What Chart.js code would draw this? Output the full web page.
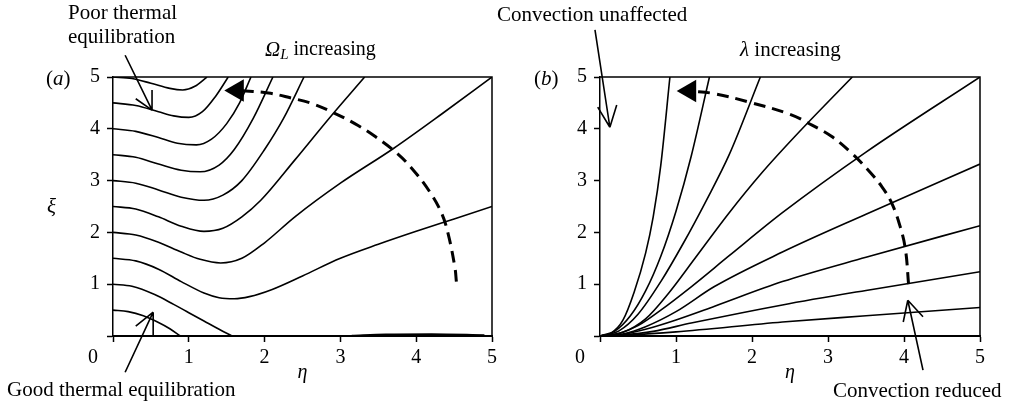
<!DOCTYPE html>
<html>
<head>
<meta charset="utf-8">
<script src="https://cdn.jsdelivr.net/npm/chart.js@4.4.1/dist/chart.umd.min.js"></script>
<style>
body{margin:0;background:#fff;width:1010px;height:408px;position:relative;overflow:hidden}
canvas{position:absolute;top:0}
#chartA{left:0}
#chartB{left:480px}
</style>
</head>
<body>
<canvas id="chartA" width="505" height="408"></canvas>
<canvas id="chartB" width="530" height="408"></canvas>
<script>
// tick values shared by both panels (0 is written once at the corner)
const tickValues = [0, 1, 2, 3, 4, 5];

// panel (a): curves for increasing Omega_L, points are [eta, xi]
const omega05 = [[0,0.5],[0.2,0.47],[0.4,0.39],[0.6,0.26],[0.75,0.14],[0.89,0]];
const omega10 = [[0,1],[0.25,0.96],[0.55,0.8],[0.8,0.61],[1.0,0.45],[1.2,0.29],[1.4,0.13],[1.57,0]];
const omega15 = [[0,1.5],[0.3,1.45],[0.6,1.29],[0.9,1.05],[1.2,0.83],[1.4,0.74],[1.6,0.72],[1.8,0.76],[2.1,0.9],[2.5,1.16],[3.0,1.5],[3.5,1.77],[4.0,2.02],[4.5,2.26],[5,2.5]];
const omega20 = [[0,2],[0.3,1.95],[0.6,1.81],[0.9,1.62],[1.15,1.48],[1.42,1.41],[1.7,1.5],[2.0,1.8],[2.4,2.3],[3.0,2.95],[3.7,3.62],[4.35,4.3],[5,5]];
const omega25 = [[0,2.5],[0.3,2.45],[0.6,2.3],[0.9,2.12],[1.2,2.02],[1.45,2.08],[1.7,2.3],[1.95,2.62],[2.4,3.4],[2.85,4.2],[3.32,5]];
const omega30 = [[0,3],[0.3,2.95],[0.6,2.82],[0.9,2.68],[1.2,2.62],[1.45,2.72],[1.7,3.0],[2.0,3.6],[2.25,4.2],[2.52,5]];
const omega35 = [[0,3.5],[0.3,3.45],[0.6,3.32],[0.9,3.2],[1.15,3.17],[1.4,3.3],[1.6,3.6],[1.85,4.2],[2.11,5]];
const omega40 = [[0,4],[0.3,3.95],[0.6,3.83],[0.85,3.72],[1.1,3.69],[1.3,3.8],[1.5,4.1],[1.67,4.5],[1.82,5]];
const omega45 = [[0,4.5],[0.3,4.45],[0.6,4.33],[0.8,4.25],[1.0,4.22],[1.18,4.33],[1.35,4.62],[1.52,5]];
const omega50 = [[0,5],[0.25,4.97],[0.5,4.88],[0.75,4.78],[0.92,4.75],[1.08,4.82],[1.24,5]];
const omegaFloor = [[3.15,0],[3.6,0.025],[4.2,0.03],[4.9,0.01]];
// dashed trend arc, last point is where the arrow head sits
const omegaArc = [[4.53,1.05],[4.51,1.33],[4.42,1.98],[4.335,2.37],[4.18,2.78],[3.94,3.24],[3.72,3.56],[3.46,3.85],[3.19,4.1],[2.88,4.33],[2.62,4.49],[2.36,4.59],[2.05,4.69],[1.64,4.74]];

// panel (b): curves for increasing lambda
const lambda1 = [[0,0],[0.15,0.06],[0.3,0.3],[0.45,0.85],[0.6,1.6],[0.7,2.3],[0.8,3.3],[0.92,5]];
const lambda2 = [[0,0],[0.2,0.1],[0.4,0.39],[0.6,0.87],[0.8,1.54],[1.0,2.41],[1.2,3.47],[1.44,5]];
const lambda3 = [[0,0],[0.25,0.1],[0.5,0.42],[0.8,1.05],[1.1,1.8],[1.4,2.62],[1.7,3.5],[2.11,5]];
const lambda4 = [[0,0],[0.3,0.07],[0.6,0.33],[0.9,0.82],[1.25,1.5],[1.69,2.36],[2.13,3.15],[2.57,3.86],[3.32,5]];
const lambda5 = [[0,0],[0.25,0.05],[0.5,0.2],[0.8,0.5],[1.2,0.95],[1.7,1.55],[2.4,2.38],[3.5,3.55],[5,5]];
const lambda6 = [[0,0],[0.3,0.04],[0.6,0.18],[1.0,0.47],[1.5,0.95],[2.4,1.62],[3.5,2.35],[5,3.32]];
const lambda7 = [[0,0],[0.3,0.03],[0.6,0.13],[1.0,0.31],[1.5,0.57],[2.4,1.05],[3.5,1.52],[5,2.13]];
const lambda8 = [[0,0],[0.3,0.02],[0.7,0.09],[1.2,0.25],[2.4,0.6],[3.5,0.88],[5,1.24]];
const lambda9 = [[0,0],[0.4,0.02],[1.0,0.08],[2.4,0.27],[3.5,0.39],[5,0.55]];
const lambdaArc = [[4.06,1.0],[4.02,1.66],[3.95,2.11],[3.84,2.56],[3.71,2.88],[3.53,3.2],[3.31,3.53],[3.05,3.85],[2.79,4.07],[2.5,4.28],[1.95,4.52],[1.5,4.68],[1.18,4.73]];

const serif = '"Liberation Serif", "Times New Roman", serif';
Chart.defaults.font.family = serif;
Chart.defaults.font.size = 20;
Chart.defaults.color = '#000';

function curve(points, width){
    return {
        data: points,
        borderColor: '#000',
        borderWidth: width || 1.6,
        pointRadius: 0,
        fill: false,
        cubicInterpolationMode: 'monotone'
    };
}

function arc(points){
    const last = points.length - 1;
    return {
        data: points,
        borderColor: '#000',
        borderWidth: 3,
        borderDash: [12, 7],
        tension: 0.4,
        fill: false,
        pointStyle: 'triangle',
        pointRotation: -90,
        pointRadius: (c) => c.dataIndex === last ? 13 : 0,
        pointBackgroundColor: '#000',
        pointBorderWidth: 0
    };
}

function font(size, italic){
    return `${italic ? 'italic ' : ''}${size}px ${serif}`;
}

// extra marks: box edges, call-out arrows and labels
function annotator(cfg){
    return {
        id: 'annotator',
        afterDraw(chart){
            const {ctx, chartArea: a, scales: {x, y}} = chart;
            const px = (p) => [x.getPixelForValue(p[0]), y.getPixelForValue(p[1])];
            ctx.save();
            ctx.strokeStyle = '#000';
            ctx.lineWidth = 1.5;
            ctx.beginPath();
            ctx.moveTo(a.left, a.top);
            ctx.lineTo(a.right, a.top);
            ctx.lineTo(a.right, a.bottom);
            ctx.stroke();

            ctx.lineWidth = 1.6;
            cfg.arrows.forEach((ar) => {
                const tip = px(ar.tip);
                ctx.beginPath();
                [ar.from, ...ar.wings].forEach((p) => {
                    const q = px(p);
                    ctx.moveTo(q[0], q[1]);
                    ctx.lineTo(tip[0], tip[1]);
                });
                ctx.stroke();
            });

            ctx.fillStyle = '#000';
            ctx.textBaseline = 'middle';
            cfg.texts.forEach((t) => {
                let cx = t.x;
                if(t.align === 'center'){
                    let w = 0;
                    t.parts.forEach((p) => { ctx.font = font(p.size || 21, p.italic); w += ctx.measureText(p.text).width; });
                    cx -= w / 2;
                }
                t.parts.forEach((p) => {
                    ctx.font = font(p.size || 21, p.italic);
                    ctx.textAlign = 'left';
                    ctx.fillText(p.text, cx, t.y + (p.dy || 0));
                    cx += ctx.measureText(p.text).width;
                });
            });
            ctx.restore();
        }
    };
}

function makeChart(id, datasets, axisWidth, rightPad, cfg){
    return new Chart(document.getElementById(id), {
        type: 'line',
        data: { datasets },
        options: {
            responsive: false,
            animation: false,
            events: [],
            layout: { padding: { top: 77, right: rightPad, left: 0, bottom: 0 } },
            plugins: { legend: { display: false }, tooltip: { enabled: false } },
            scales: {
                x: {
                    type: 'linear', min: 0, max: 5,
                    afterBuildTicks: (s) => { s.ticks = tickValues.map((v) => ({ value: v })); },
                    afterFit: (s) => { s.height = 72; },
                    ticks: { padding: 4, callback: (v) => v === 0 ? '' : String(v), maxRotation: 0 },
                    grid: { drawOnChartArea: false, tickLength: 6, color: '#000', tickWidth: 1.5 },
                    border: { color: '#000', width: 2 },
                    title: { display: true, text: 'η', font: { size: 20, style: 'italic' }, padding: { top: 0, bottom: 23 } }
                },
                y: {
                    type: 'linear', min: 0, max: 5,
                    afterBuildTicks: (s) => { s.ticks = tickValues.map((v) => ({ value: v })); },
                    afterFit: (s) => { s.width = axisWidth; },
                    ticks: { padding: 7, callback: (v) => v === 0 ? '' : String(v) },
                    grid: { drawOnChartArea: false, tickLength: 6, color: '#000', tickWidth: 1.5 },
                    border: { color: '#000', width: 1.5 }
                }
            }
        },
        plugins: [annotator(cfg)]
    });
}

makeChart('chartA',
    [omega05, omega10, omega15, omega20, omega25, omega30, omega35, omega40, omega45, omega50].map((c) => curve(c))
        .concat([curve(omegaFloor, 2.6), arc(omegaArc)]),
    113, 13,
    {
        arrows: [
            { from: [0.16, 5.42], tip: [0.515, 4.36], wings: [[0.3, 4.58], [0.515, 4.75]] },
            { from: [0.16, -0.7], tip: [0.53, 0.46], wings: [[0.3, 0.19], [0.53, 0.02]] }
        ],
        texts: [
            { x: 68, y: 13, parts: [{ text: 'Poor thermal' }] },
            { x: 68, y: 37, parts: [{ text: 'equilibration' }] },
            { x: 7, y: 390, parts: [{ text: 'Good thermal equilibration' }] },
            { x: 46, y: 79, parts: [{ text: '(' }, { text: 'a', italic: true }, { text: ')' }] },
            { x: 47, y: 207, parts: [{ text: 'ξ', italic: true }] },
            { x: 93, y: 358, align: 'center', parts: [{ text: '0', size: 20 }] },
            { x: 265, y: 50, parts: [{ text: 'Ω', italic: true }, { text: 'L', italic: true, size: 15, dy: 5 }, { text: ' increasing', size: 20 }] }
        ]
    });

makeChart('chartB',
    [lambda1, lambda2, lambda3, lambda4, lambda5, lambda6, lambda7, lambda8, lambda9].map((c) => curve(c)).concat([arc(lambdaArc)]),
    120, 30,
    {
        arrows: [
            { from: [-0.066, 5.91], tip: [0.13, 4.03], wings: [[-0.03, 4.42], [0.22, 4.46]] },
            { from: [4.25, -0.66], tip: [4.05, 0.69], wings: [[3.99, 0.27], [4.25, 0.37]] }
        ],
        texts: [
            { x: 17, y: 15, parts: [{ text: 'Convection unaffected' }] },
            { x: 353, y: 391, parts: [{ text: 'Convection reduced' }] },
            { x: 54, y: 79, parts: [{ text: '(' }, { text: 'b', italic: true }, { text: ')' }] },
            { x: 100, y: 358, align: 'center', parts: [{ text: '0', size: 20 }] },
            { x: 260, y: 50, parts: [{ text: 'λ', italic: true }, { text: ' increasing' }] }
        ]
    });
</script>
</body>
</html>
